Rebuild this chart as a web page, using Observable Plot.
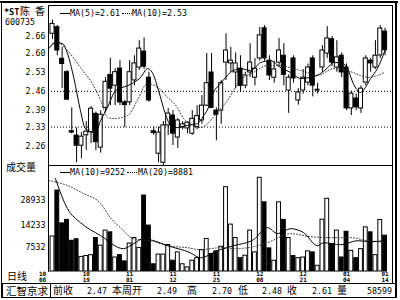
<!DOCTYPE html>
<html><head><meta charset="utf-8">
<script src="https://cdn.jsdelivr.net/npm/d3@7"></script>
<script src="https://cdn.jsdelivr.net/npm/@observablehq/plot@0.6"></script>
<style>
html,body{margin:0;padding:0;background:#fff;}
#wrap{position:relative;width:400px;height:300px;overflow:hidden;background:#fff;}
#wrap svg{position:absolute;left:0;}
.t{position:absolute;white-space:pre;line-height:1;color:#000;z-index:3;}
.m{font-family:"DejaVu Sans Mono",monospace;font-size:8.3px;}
.c{font-family:"Noto Sans CJK SC",sans-serif;font-size:10px;}
.ln{position:absolute;background:#000;z-index:2;}
.sw{position:absolute;width:10px;height:0;border-top:1px solid #000;z-index:3;}
.sw.d{border-top:1px dotted #000;}
</style></head>
<body><div id="wrap"></div>
<script>
// ---------- data ----------
const stockName = "*ST";
const stockNameCJK = ["陈", "香"];
const stockCode = "600735";

const open = [2.67,2.694,2.579,2.53,2.315,2.299,2.262,2.30,2.311,2.378,
  2.255,2.40,2.52,2.481,2.543,2.42,2.42,2.50,2.547,2.605,
  2.51,2.315,2.233,2.20,2.336,2.372,2.292,2.33,2.325,2.306,
  2.33,2.354,2.408,2.529,2.39,2.39,2.565,2.562,2.529,2.543,
  2.481,2.529,2.51,2.58,2.69,2.572,2.51,2.565,2.59,2.463,
  2.58,2.427,2.463,2.492,2.58,2.463,2.547,2.598,2.65,2.547,
  2.59,2.547,2.398,2.434,2.398,2.492,2.572,2.547,2.591,2.678];
const high = [2.72,2.70,2.621,2.536,2.40,2.327,2.31,2.35,2.405,2.385,
  2.39,2.51,2.58,2.543,2.572,2.427,2.572,2.59,2.645,2.655,
  2.53,2.33,2.33,2.35,2.398,2.39,2.361,2.35,2.35,2.39,
  2.408,2.445,2.598,2.598,2.40,2.50,2.67,2.62,2.60,2.59,
  2.53,2.634,2.58,2.693,2.70,2.59,2.57,2.653,2.634,2.52,
  2.59,2.47,2.54,2.56,2.59,2.49,2.627,2.696,2.66,2.645,
  2.60,2.56,2.46,2.45,2.48,2.59,2.58,2.645,2.70,2.69];
const low = [2.65,2.59,2.47,2.427,2.305,2.20,2.215,2.245,2.27,2.244,
  2.235,2.385,2.408,2.408,2.408,2.328,2.408,2.48,2.536,2.54,
  2.42,2.30,2.20,2.19,2.299,2.263,2.252,2.32,2.306,2.30,
  2.32,2.34,2.405,2.397,2.28,2.34,2.50,2.53,2.47,2.46,
  2.47,2.51,2.48,2.57,2.57,2.50,2.49,2.55,2.48,2.38,
  2.49,2.41,2.45,2.48,2.44,2.45,2.53,2.58,2.55,2.53,
  2.51,2.39,2.372,2.39,2.38,2.48,2.53,2.54,2.58,2.59];
const close = [2.706,2.609,2.56,2.43,2.31,2.262,2.295,2.313,2.397,2.275,
  2.375,2.495,2.47,2.53,2.42,2.41,2.53,2.562,2.616,2.55,
  2.427,2.308,2.31,2.336,2.379,2.306,2.354,2.34,2.346,2.36,
  2.37,2.408,2.49,2.40,2.375,2.49,2.609,2.572,2.562,2.48,
  2.518,2.565,2.543,2.664,2.58,2.518,2.54,2.609,2.52,2.51,
  2.507,2.456,2.51,2.547,2.481,2.466,2.609,2.653,2.565,2.584,
  2.529,2.398,2.452,2.402,2.47,2.58,2.562,2.59,2.689,2.61];
const volume = [10400,38600,15100,16700,9200,9600,5800,5950,6100,9950,
  8000,12300,11700,5700,6100,5100,8500,9950,7500,33500,
  14200,4700,6200,6200,8150,5200,6600,4700,4300,5200,
  5600,7050,9700,6300,6800,7750,42500,14600,9950,5600,
  6000,12300,6600,55600,27600,7400,5200,27600,16700,9950,
  5950,5600,5700,6800,6600,4500,16800,30500,8400,12300,
  5700,11900,6900,5600,7250,13500,11700,6100,16650,10650];

// moving-average lines (position in trading-day index, value)
const ma5Idx = [-0.8,0.6,2.1,3.1,4.4,5.8,6.8,8.9,10.0,11.4,13.1,15.6,16.8,18.3,19.7,20.7,22.0,23.4,24.5,25.9,28.0,30.1,31.3,32.2,33.4,34.9,36.9,39.0,41.1,43.2,45.2,47.3,49.4,51.5,53.5,55.6,57.1,58.3,59.8,61.2,62.4,63.9,64.9,66.0,67.4,69];
const ma5Val = [2.616,2.638,2.634,2.598,2.511,2.39,2.325,2.31,2.354,2.401,2.463,2.481,2.492,2.511,2.543,2.529,2.463,2.379,2.336,2.328,2.336,2.343,2.37,2.395,2.456,2.489,2.529,2.543,2.536,2.565,2.572,2.547,2.529,2.507,2.511,2.525,2.547,2.565,2.565,2.543,2.489,2.456,2.474,2.507,2.543,2.61];
const ma10Idx = [-0.8,1.0,3.1,5.8,8.5,10.0,11.4,12.7,15.6,17.6,19.7,21.8,23.9,25.9,27.2,29.3,30.7,34.2,36.3,39.0,41.7,44.6,47.3,50.0,52.9,55.0,58.3,61.2,63.9,65.4,67.4,69];
const ma10Val = [2.616,2.638,2.609,2.547,2.481,2.427,2.365,2.361,2.372,2.427,2.489,2.474,2.438,2.401,2.361,2.336,2.328,2.383,2.427,2.50,2.529,2.554,2.554,2.543,2.529,2.518,2.543,2.536,2.518,2.511,2.518,2.53];
const volMa10Idx = [0.6,3.1,5.8,10.0,14.7,16.8,18.9,21.0,23.9,28.6,30.7,34.2,37.6,41.7,44.6,46.7,49.4,52.1,55.0,56.2,59.8,63.3,66.0,69];
const volMa10Val = [54400,23080,15440,10640,7330,8460,9760,9220,7990,6530,5660,6920,7990,9490,13380,11270,13000,11590,7990,8700,8210,9220,8960,9252];
const volMa20Idx = [-0.8,3.1,6.4,10.0,12.0,14.1,16.8,20.3,23.9,28.0,30.7,34.9,37.6,41.7,44.6,49.4,53.5,58.3,61.8,65.4,69];
const volMa20Val = [51400,44600,35500,26640,17830,13380,9760,9220,7990,7540,7120,7540,7330,7760,8700,11270,10340,10040,10040,9220,8881];

const priceTicks = [2.66,2.60,2.53,2.46,2.39,2.33,2.26];
const gridLevels = [2.46,2.33];
const volTicks = [28933,14233,7532];
const dateIdx = [0,7,16,25,34,43,52,61,69];
const dateMonth = ["10","10","11","11","11","12","12","01","01"];
const dateDay = ["08","19","01","12","25","08","21","04","14"];
const weekLabels = ["前收","本周开","高","低","收","量"];
const weekValues = ["2.47","2.49","2.70","2.48","2.61","58599"];
const footerName = "汇智京求";

// ---------- build ----------
const wrap = document.getElementById("wrap");
const data = close.map((c, i) => ({i, o: open[i], h: high[i], l: low[i], c, v: volume[i], up: c >= open[i]}));
const pts = (idx, val) => idx.map((i, k) => ({i, v: val[k]}));
const ticksX = dateIdx.map((i, k) => ({i, m: dateMonth[k], d: dateDay[k], first: k === 0}));

const xDomain = [-0.83, 70.54];
const priceDomain = [2.19, 2.773];
const volDomain = [3823, 79000];
const plotStyle = {fontFamily: "DejaVu Sans Mono, monospace", fontSize: "8.3px", background: "transparent", overflow: "visible", color: "#000"};

const price = Plot.plot({
  width: 400, height: 165,
  marginLeft: 48, marginRight: 8, marginTop: 5, marginBottom: 0,
  x: {domain: xDomain, axis: null},
  y: {domain: priceDomain, axis: null},
  color: {type: "identity"},
  style: plotStyle,
  marks: [
    Plot.ruleY(gridLevels, {stroke: "#000", strokeDasharray: "1,2", strokeWidth: 1}),
    Plot.ruleX(data, {x: "i", y1: "l", y2: "h", stroke: "#000", strokeWidth: 1}),
    Plot.rect(data, {x1: d => d.i - 0.42, x2: d => d.i + 0.42,
      y1: d => Math.min(d.o, d.c), y2: d => Math.max(d.o, d.c),
      fill: d => d.up ? "#fff" : "#000", stroke: "#000", strokeWidth: 1}),
    Plot.line(pts(ma10Idx, ma10Val), {x: "i", y: "v", stroke: "#333", strokeWidth: 1, strokeDasharray: "1,2", curve: "monotone-x"}),
    Plot.line(pts(ma5Idx, ma5Val), {x: "i", y: "v", stroke: "#000", strokeWidth: 1, curve: "monotone-x"}),
    Plot.text(priceTicks, {y: d => d, frameAnchor: "left", dx: -3, textAnchor: "end", text: d => d.toFixed(2), fill: "#000"})
  ]
});
price.style.top = "0px";
wrap.appendChild(price);

const dateText = (field, dy) => [
  Plot.text(ticksX.filter(t => !t.first), {x: "i", frameAnchor: "bottom", lineAnchor: "top", dy, text: field,
    fontSize: 6, fontWeight: "bold", fill: "#000"}),
  Plot.text(ticksX.filter(t => t.first), {x: "i", frameAnchor: "bottom", lineAnchor: "top", dy, dx: -10, text: field,
    fontSize: 6, fontWeight: "bold", fill: "#000"})
];
const vol = Plot.plot({
  width: 400, height: 118,
  marginLeft: 48, marginRight: 8, marginTop: 0, marginBottom: 12,
  x: {domain: xDomain, axis: null},
  y: {type: "log", domain: volDomain, axis: null},
  color: {type: "identity"},
  style: plotStyle,
  marks: [
    Plot.rect(data, {x1: d => d.i - 0.4, x2: d => d.i + 0.4, y1: volDomain[0], y2: "v",
      fill: d => d.up ? "#fff" : "#000", stroke: "#000", strokeWidth: 1}),
    Plot.line(pts(volMa20Idx, volMa20Val), {x: "i", y: "v", stroke: "#333", strokeWidth: 1, strokeDasharray: "1,2", curve: "monotone-x"}),
    Plot.line(pts(volMa10Idx, volMa10Val), {x: "i", y: "v", stroke: "#000", strokeWidth: 1, curve: "monotone-x"}),
    Plot.text(volTicks, {y: d => d, frameAnchor: "left", dx: -3, textAnchor: "end", text: d => String(d), fill: "#000"}),
    ...dateText("m", 0),
    ...dateText("d", 6)
  ]
});
vol.style.top = "165px";
wrap.appendChild(vol);

// ---------- frame, labels, legends ----------
function txt(s, left, top, cls, extra) {
  const e = document.createElement("div");
  e.className = "t " + cls; e.textContent = s;
  e.style.left = left + "px"; e.style.top = top + "px";
  if (extra) Object.assign(e.style, extra);
  wrap.appendChild(e); return e;
}
function ln(l, t, w, h) {
  const e = document.createElement("div"); e.className = "ln";
  Object.assign(e.style, {left: l + "px", top: t + "px", width: w + "px", height: h + "px"});
  wrap.appendChild(e);
}
function sw(l, t, dotted) {
  const e = document.createElement("div"); e.className = "sw" + (dotted ? " d" : "");
  Object.assign(e.style, {left: l + "px", top: t + "px"});
  wrap.appendChild(e);
}
// outer frame
ln(0, 1, 398, 2);      // top thick
ln(48, 5, 345, 1);     // top thin (panel)
ln(1, 1, 1, 297);      // left
ln(395, 1, 2, 297);    // right thick
ln(392, 5, 1, 278);    // right thin
ln(48, 5, 1, 267);     // y axis line
ln(48, 165, 345, 1);   // panel separator
ln(1, 283, 396, 1);    // footer top
ln(1, 297, 396, 1);    // footer bottom
// footer name box
txt(footerName, 2, 283, "c", {fontSize: "10.5px", border: "1px solid #000", padding: "1px 2px 0 3px", height: "12px", lineHeight: "12px"});

// stock name
txt(stockName, 4, 8, "m", {fontWeight: "bold", fontSize: "8.5px"});
txt(stockNameCJK[0], 20, 6, "c");
txt(stockNameCJK[1], 35, 6, "c");
txt(stockCode, 5, 18, "m");

// price legend
sw(60, 13, false);
txt("MA(5)=" + ma5Val[ma5Val.length - 1].toFixed(2), 70, 9, "m");
sw(122, 13, true);
txt("MA(10)=" + ma10Val[ma10Val.length - 1].toFixed(2), 132, 9, "m");

// volume labels
txt("成交量", 6, 162, "c");
sw(60, 172, false);
txt("MA(10)=" + volMa10Val[volMa10Val.length - 1], 70, 168, "m");
sw(127, 172, true);
txt("MA(20)=" + volMa20Val[volMa20Val.length - 1], 138, 168, "m");
txt("日线", 7, 271, "c");

// weekly footer
const labLeft = [53, 112, 187, 238, 287, 337];
const valLeft = [87, 157, 212, 262, 312, 367];
weekLabels.forEach((s, k) => txt(s, labLeft[k], 285, "c"));
weekValues.forEach((s, k) => txt(s, valLeft[k], 287, "m"));
</script></body></html>
